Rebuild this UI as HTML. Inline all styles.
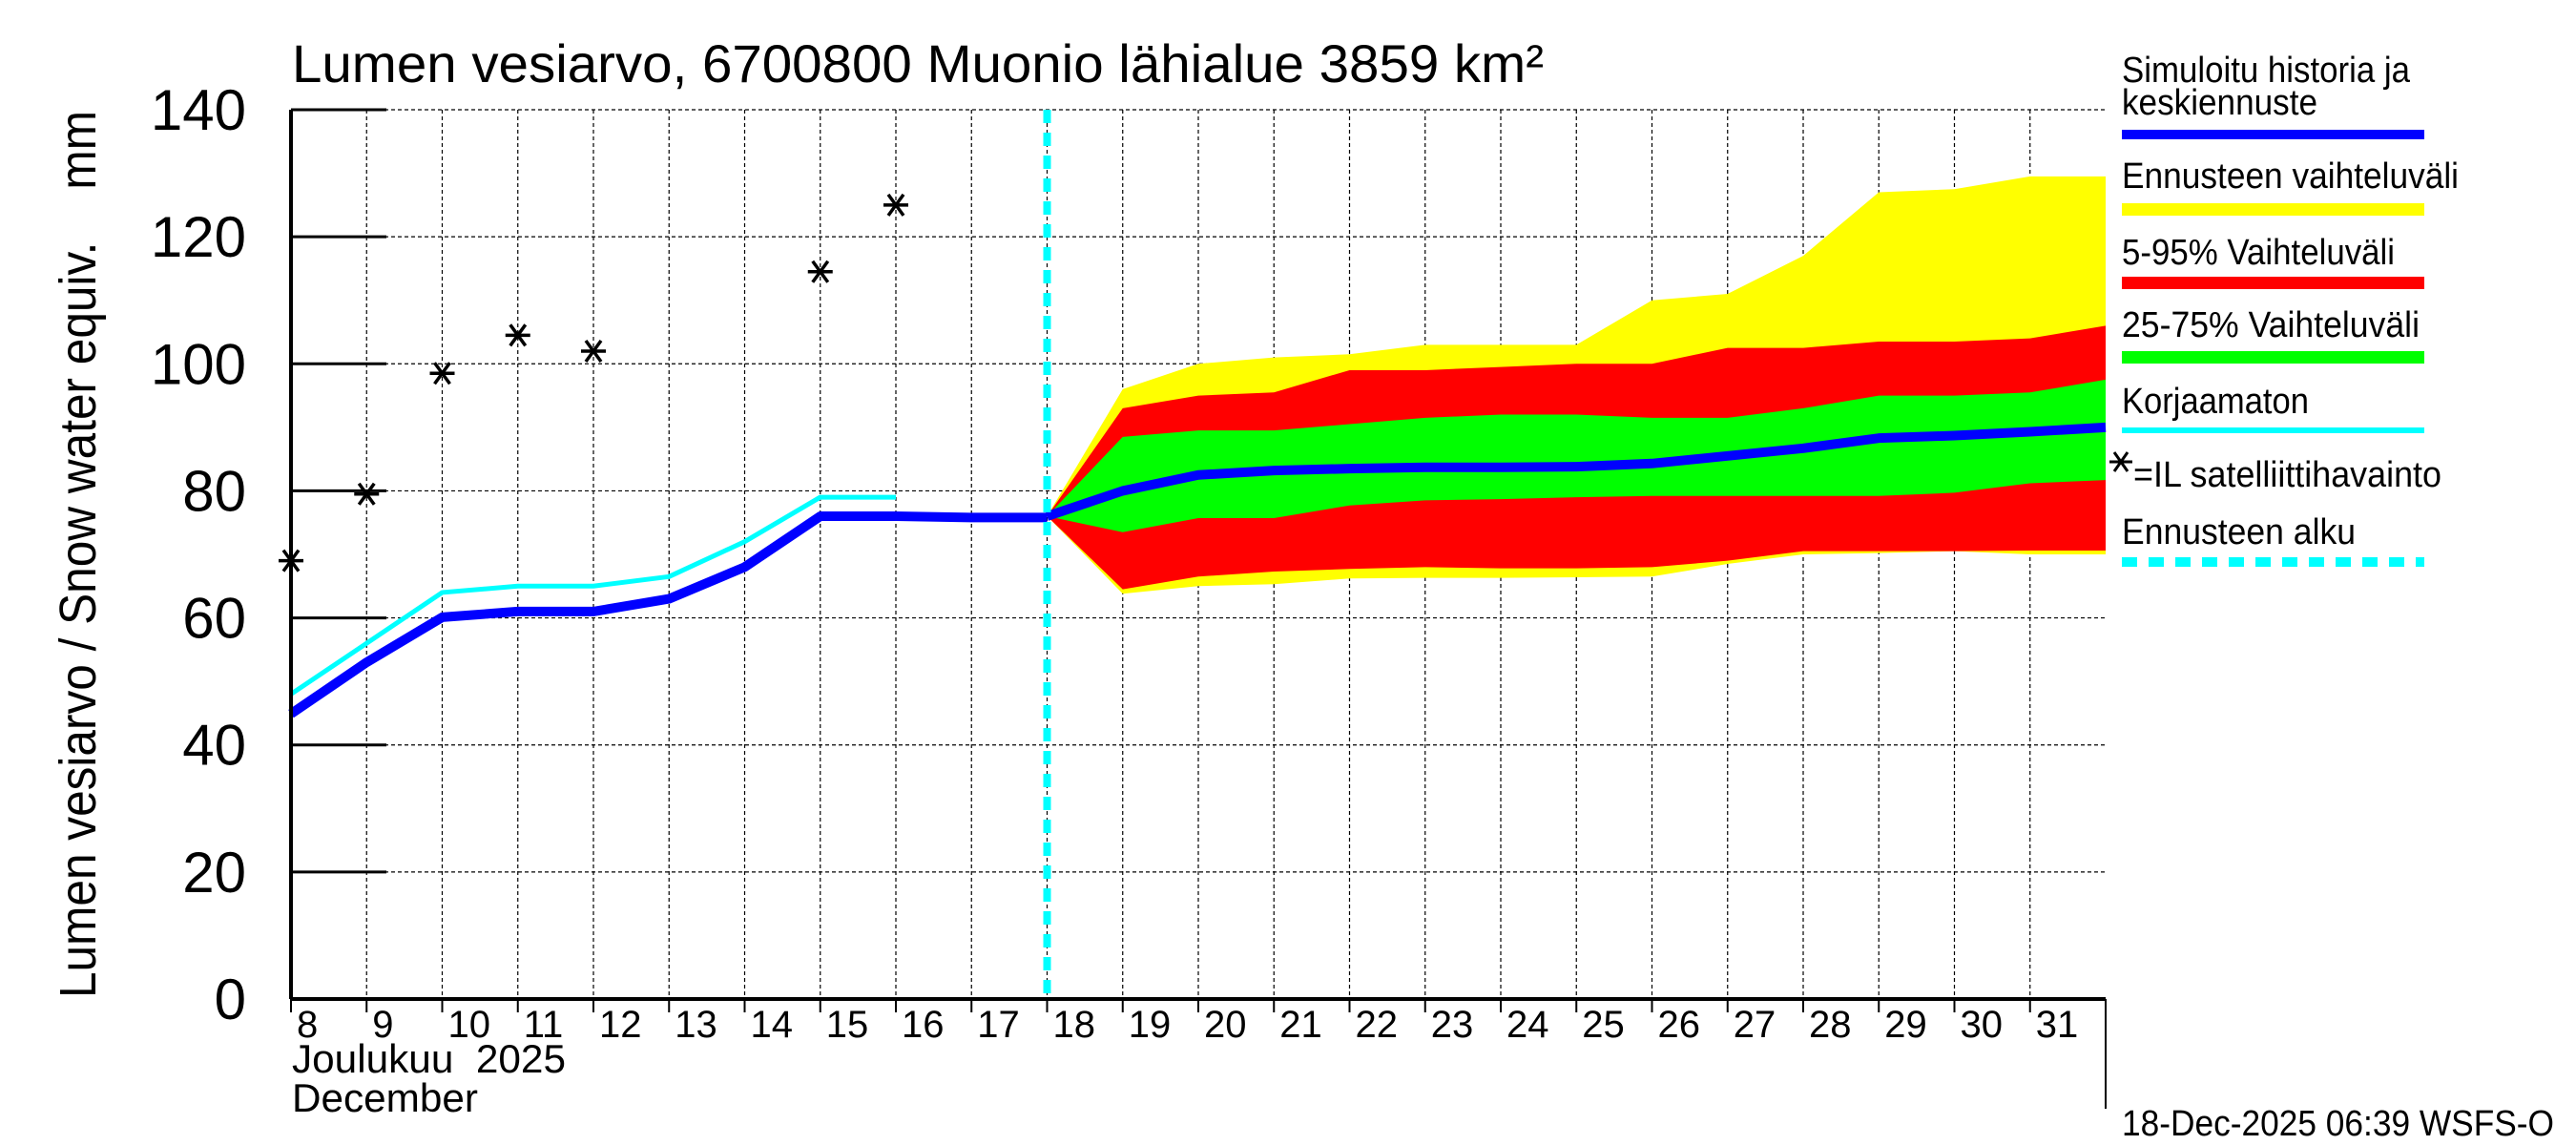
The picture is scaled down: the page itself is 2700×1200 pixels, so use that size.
<!DOCTYPE html>
<html><head><meta charset="utf-8"><style>
html,body{margin:0;padding:0;background:#fff;}
svg{display:block;font-family:"Liberation Sans",sans-serif;}
</style></head><body>
<svg id="chart" width="2700" height="1200" viewBox="0 0 2700 1200" xmlns="http://www.w3.org/2000/svg">
<g id="grid"></g>
<g id="bands"></g>
<g id="lines"></g>
<g id="axes"></g>
<text x="306" y="86" font-size="56" textLength="1312" lengthAdjust="spacingAndGlyphs">Lumen vesiarvo, 6700800 Muonio lähialue 3859 km²</text>
<text transform="translate(100,581) rotate(-90)" text-anchor="middle" font-size="54" textLength="930" lengthAdjust="spacingAndGlyphs">Lumen vesiarvo / Snow water equiv.&#160;&#160;&#160;&#160;mm</text>
<text x="306" y="1124" font-size="42" textLength="287" lengthAdjust="spacingAndGlyphs">Joulukuu&#160;&#160;2025</text>
<text x="306" y="1165" font-size="42" textLength="195" lengthAdjust="spacingAndGlyphs">December</text>
<text x="2224" y="1190" font-size="38" textLength="453" lengthAdjust="spacingAndGlyphs">18-Dec-2025 06:39 WSFS-O</text>
<g id="legend" font-size="38">
<text x="2224" y="86" textLength="302" lengthAdjust="spacingAndGlyphs">Simuloitu historia ja</text>
<text x="2224" y="120" textLength="205" lengthAdjust="spacingAndGlyphs">keskiennuste</text>
<rect x="2224" y="136" width="317" height="10" fill="#0000ff"/>
<text x="2224" y="197" textLength="353" lengthAdjust="spacingAndGlyphs">Ennusteen vaihteluväli</text>
<rect x="2224" y="213" width="317" height="13" fill="#ffff00"/>
<text x="2224" y="277" textLength="286" lengthAdjust="spacingAndGlyphs">5-95% Vaihteluväli</text>
<rect x="2224" y="290" width="317" height="13" fill="#ff0000"/>
<text x="2224" y="353" textLength="312" lengthAdjust="spacingAndGlyphs">25-75% Vaihteluväli</text>
<rect x="2224" y="368" width="317" height="13" fill="#00ff00"/>
<text x="2224" y="433" textLength="196" lengthAdjust="spacingAndGlyphs">Korjaamaton</text>
<rect x="2224" y="448" width="317" height="6" fill="#00ffff"/>
<g stroke="#000" stroke-width="3">
<line x1="2211" y1="484" x2="2235" y2="484"/><line x1="2216" y1="474" x2="2230" y2="494"/><line x1="2216" y1="494" x2="2230" y2="474"/>
</g>
<text x="2236" y="510" textLength="323" lengthAdjust="spacingAndGlyphs">=IL satelliittihavainto</text>
<text x="2224" y="570" textLength="245" lengthAdjust="spacingAndGlyphs">Ennusteen alku</text>
<line x1="2224" y1="589" x2="2541" y2="589" stroke="#00ffff" stroke-width="10" stroke-dasharray="16,12"/>
</g>
</svg>
<script>
const histDays=[8,9,10,11,12,13,14,15,16,17,18];
const histSim=[44.9,53,60.1,61,61,63,68,76,76,75.8,75.8];
const uncDays=[8,9,10,11,12,13,14,15,16];
const uncVals=[48,56,64,65,65,66.5,72,79,79];
const obsDays=[8,9,10,11,12,15,16];
const obsVals=[69,79.5,98.5,104.5,102,114.5,125];
const fcDays=[18,19,20,21,22,23,24,25,26,27,28,29,30,31,32];
const yMax=[76,96,100,101,101.5,103,103,103,110,111,117,127,127.5,129.5,129.5];
const rMax=[76,93,95,95.5,99,99,99.5,100,100,102.5,102.5,103.5,103.5,104,106];
const gMax=[76,88.5,89.5,89.5,90.5,91.5,92,92,91.5,91.5,93,95,95,95.5,97.5];
const fcMed=[76,80,82.5,83.2,83.5,83.7,83.7,83.8,84.3,85.5,86.7,88.3,88.7,89.3,90];
const gMin=[76,73.5,75.7,75.7,77.7,78.5,78.7,79,79.2,79.2,79.2,79.2,79.7,81.2,81.7];
const rMin=[76,64.5,66.5,67.3,67.7,68,67.8,67.8,68,69,70.5,70.5,70.5,70.6,70.6];
const yMin=[76,63.8,65,65.3,66.2,66.3,66.3,66.4,66.5,68.5,70,70.2,70.5,70,70];
const yTicks=[0,20,40,60,80,100,120,140];
const dayLabels=[8,9,10,11,12,13,14,15,16,17,18,19,20,21,22,23,24,25,26,27,28,29,30,31];
const forecastStart=18;

const NS="http://www.w3.org/2000/svg";
const X0=305,DX=79.25,Y0=1047,Y1=115;
function xs(d){return X0+(d-8)*DX;}
function ys(v){return Y0-(v/140)*(Y0-Y1);}
function mk(tag,attrs,parent){const e=document.createElementNS(NS,tag);for(const k in attrs)e.setAttribute(k,attrs[k]);parent.appendChild(e);return e;}
const grid=document.getElementById('grid'),bands=document.getElementById('bands'),lines=document.getElementById('lines'),axes=document.getElementById('axes');
const XR=xs(32);
yTicks.forEach(v=>{
  if(v>0){const l=mk('line',{x1:X0,x2:XR,y1:ys(v),y2:ys(v),stroke:'#000','stroke-width':1.2,'stroke-dasharray':'4,3'},grid);
  
  }
  const t=mk('line',{x1:X0,x2:X0+100,y1:ys(v),y2:ys(v),stroke:'#000','stroke-width':3},axes);
  
  
  const tx=mk('text',{x:258,y:ys(v)+21,'text-anchor':'end','font-size':60},axes);
  tx.textContent=v;
  
  
});
dayLabels.forEach(d=>{
  if(d>8){const l=mk('line',{x1:xs(d),x2:xs(d),y1:Y1,y2:Y0,stroke:'#000','stroke-width':1.2,'stroke-dasharray':'4,3'},grid);
  
  }
  const t=mk('line',{x1:xs(d),x2:xs(d),y1:Y0,y2:Y0+14,stroke:'#000','stroke-width':2},axes);
  
  
  const tx=mk('text',{x:xs(d)+6,y:Y0+40,'font-size':40},axes);
  tx.textContent=d;
  
  
});
mk('line',{x1:X0,x2:X0,y1:Y1,y2:Y0,stroke:'#000','stroke-width':4},axes);
mk('line',{x1:X0,x2:XR,y1:Y0,y2:Y0,stroke:'#000','stroke-width':4},axes);
mk('line',{x1:XR,x2:XR,y1:Y0,y2:1162,stroke:'#000','stroke-width':2},axes);
function band(hi,lo,color,name){
  let p=fcDays.map((d,i)=>xs(d)+','+ys(hi[i]));
  p=p.concat(fcDays.map((d,i)=>xs(d)+','+ys(lo[i])).reverse());
  const e=mk('polygon',{points:p.join(' '),fill:color},bands);
  
  
}
band(yMax,yMin,'#ffff00','band-full-range');
band(rMax,rMin,'#ff0000','band-5-95');
band(gMax,gMin,'#00ff00','band-25-75');
function pl(days,vals,color,w,name){
  const e=mk('polyline',{points:days.map((d,i)=>xs(d)+','+ys(vals[i])).join(' '),fill:'none',stroke:color,'stroke-width':w,'stroke-linejoin':'round'},lines);
  
  
}
pl(uncDays,uncVals,'#00ffff',5,'uncorrected-line');
pl(histDays,histSim,'#0000ff',10,'simulated-history-line');
pl(fcDays,fcMed,'#0000ff',10,'forecast-median-line');
const fs=mk('line',{x1:xs(forecastStart),x2:xs(forecastStart),y1:Y1,y2:Y0,stroke:'#00ffff','stroke-width':8,'stroke-dasharray':'14,10'},lines);


obsDays.forEach((d,i)=>{
  const cx=xs(d),cy=ys(obsVals[i]);
  const g=mk('g',{stroke:'#000','stroke-width':3.5},lines);
  
  
  mk('line',{x1:cx-13,y1:cy,x2:cx+13,y2:cy},g);
  mk('line',{x1:cx-8,y1:cy-11,x2:cx+8,y2:cy+11},g);
  mk('line',{x1:cx-8,y1:cy+11,x2:cx+8,y2:cy-11},g);
});
</script>
</body></html>
